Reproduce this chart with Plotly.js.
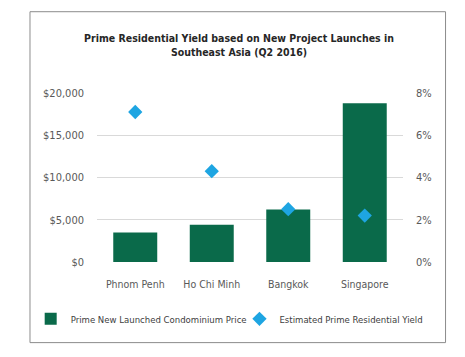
<!DOCTYPE html>
<html>
<head>
<meta charset="utf-8">
<script src="https://cdn.plot.ly/plotly-3.0.1.min.js"></script>
<style>
html,body{margin:0;padding:0;background:#fff;}
#chart{width:465px;height:357px;}
</style>
</head>
<body>
<div id="chart"></div>
<script>
var categories = ["Phnom Penh", "Ho Chi Minh", "Bangkok", "Singapore"];
var condoPrice = [3500, 4400, 6200, 18800];
var primeYield = [7.1, 4.3, 2.5, 2.2];
var priceTicks = [0, 5000, 10000, 15000, 20000];
var priceTickLabels = ["$0", "$5,000", "$10,000", "$15,000", "$20,000"];
var yieldTicks = [0, 2, 4, 6, 8];
var yieldTickLabels = ["0%", "2%", "4%", "6%", "8%"];

var FONT = '"DejaVu Sans Condensed", "Liberation Sans", Arial, sans-serif';

var traces = [
  {
    type: 'bar',
    name: 'Prime New Launched Condominium Price',
    x: categories,
    y: condoPrice,
    marker: {color: '#0a6a4a'},
    yaxis: 'y',
    legend: 'legend'
  },
  {
    type: 'scatter',
    mode: 'markers',
    name: 'Estimated Prime Residential Yield',
    x: categories,
    y: primeYield,
    marker: {symbol: 'diamond', size: 11, color: '#1ea5e2'},
    yaxis: 'y2',
    legend: 'legend2'
  }
];

var legendFont = {family: FONT, size: 9.5, color: '#404040'};

var layout = {
  width: 465,
  height: 357,
  margin: {l: 97, r: 62, t: 93, b: 95},
  paper_bgcolor: '#ffffff',
  plot_bgcolor: '#ffffff',
  font: {family: FONT, size: 11, color: '#595959'},
  title: {
    text: 'Prime Residential Yield based on New Project Launches in<br>Southeast Asia (Q2 2016)',
    font: {family: FONT, size: 10.5, color: '#262626', weight: 'bold'},
    xref: 'container', x: 0.514, xanchor: 'center',
    yref: 'container', y: 0.882, yanchor: 'middle'
  },
  bargap: 0.425,
  showlegend: true,
  legend: {
    orientation: 'h',
    xref: 'container', x: 0.066, xanchor: 'left',
    yref: 'container', y: 0.107, yanchor: 'middle',
    font: legendFont,
    bgcolor: 'rgba(0,0,0,0)',
    itemwidth: 30
  },
  legend2: {
    orientation: 'h',
    xref: 'container', x: 0.515, xanchor: 'left',
    yref: 'container', y: 0.107, yanchor: 'middle',
    font: legendFont,
    bgcolor: 'rgba(0,0,0,0)',
    itemwidth: 30
  },
  xaxis: {
    type: 'category',
    showgrid: false,
    showline: false,
    ticks: '',
    ticklabelstandoff: 14,
    tickfont: {family: FONT, size: 10.5, color: '#595959'}
  },
  yaxis: {
    range: [0, 20000],
    tickmode: 'array',
    tickvals: priceTicks,
    ticktext: priceTickLabels,
    showgrid: true,
    gridcolor: '#d9d9d9',
    gridwidth: 1,
    zeroline: false,
    showline: false,
    ticks: '',
    ticklabelstandoff: 12,
    tickfont: {family: FONT, size: 11, color: '#595959'}
  },
  yaxis2: {
    overlaying: 'y',
    side: 'right',
    range: [0, 8],
    tickmode: 'array',
    tickvals: yieldTicks,
    ticktext: yieldTickLabels,
    showgrid: false,
    zeroline: false,
    showline: false,
    ticks: '',
    ticklabelstandoff: 12,
    tickfont: {family: FONT, size: 11, color: '#595959'}
  },
  shapes: [
    {
      type: 'rect', xref: 'paper', yref: 'paper',
      x0: -0.219, x1: 1.139, y0: -0.477, y1: 1.481,
      line: {color: '#8c8c8c', width: 1},
      fillcolor: 'rgba(0,0,0,0)',
      layer: 'below'
    }
  ]
};

Plotly.newPlot('chart', traces, layout, {displayModeBar: false, staticPlot: true});
</script>
</body>
</html>
